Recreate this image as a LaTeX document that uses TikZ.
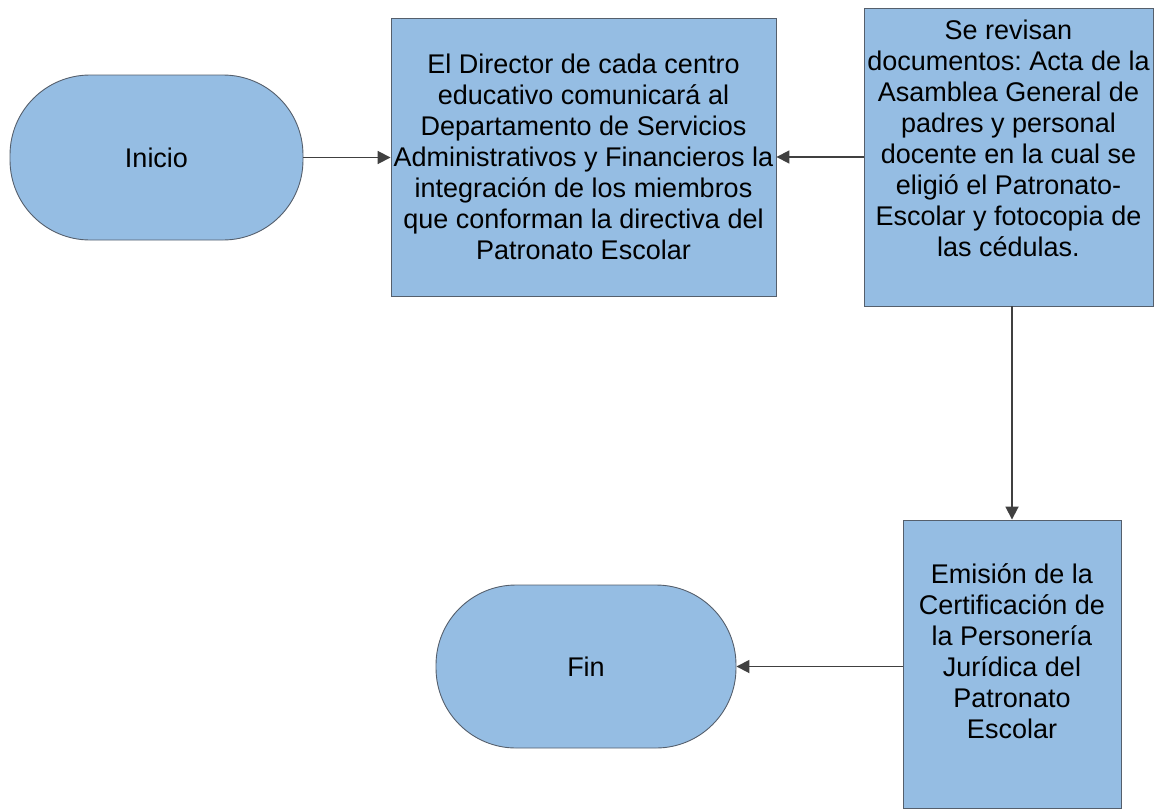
\documentclass[tikz,border=0pt]{standalone}
\usepackage{fontspec}
\setmainfont{Liberation Sans}
\usepackage{tikz}
\usetikzlibrary{arrows.meta, positioning}
\definecolor{boxblue}{RGB}{149,189,227}
\definecolor{boxedge}{RGB}{85,95,108}
\definecolor{linegray}{RGB}{64,64,64}
\frenchspacing
\tikzset{
  terminal/.style={rectangle, rounded corners=80pt, draw=boxedge, fill=boxblue, line width=0.9pt, font=\fontsize{27}{31}\selectfont, text centered},
  stepbox/.style={rectangle, draw=boxedge, fill=boxblue, line width=0.9pt},
  boxtext/.style={align=center, font=\fontsize{27}{31}\selectfont, inner sep=0pt},
  arrowline/.style={-{Triangle[length=13pt, width=13pt]}, line width=1.8pt, draw=linegray, fill=linegray},
}
\begin{document}
\begin{tikzpicture}[x=1pt, y=-1pt]
\useasboundingbox (0,0) rectangle (1154,811);

\node[terminal, minimum width=293pt, minimum height=165pt] (inicio) at (156.5,157.5) {Inicio};
\node[terminal, minimum width=300pt, minimum height=163pt] (fin) at (586,666.5) {Fin};

\node[stepbox, minimum width=385pt, minimum height=278pt] (director) at (583.5,157) {};
\node[boxtext] (directortxt) at (583.5,157) {El Director de cada centro\\educativo comunicará al\\Departamento de Servicios\\Administrativos y Financieros la\\integración de los miembros\\que conforman la directiva del\\Patronato Escolar};

\node[stepbox, minimum width=289pt, minimum height=298pt] (revision) at (1008.5,157) {};
\node[boxtext] (revisiontxt) at (1008.5,138.5) {Se revisan\\documentos: Acta de la\\Asamblea General de\\padres y personal\\docente en la cual se\\eligió el Patronato-\\Escolar y fotocopia de\\las cédulas.};

\node[stepbox, minimum width=218pt, minimum height=288pt] (emision) at (1012,664) {};
\node[boxtext] (emisiontxt) at (1012,651) {Emisión de la\\Certificación de\\la Personería\\Jurídica del\\Patronato\\Escolar};

\draw[arrowline] (inicio.east) -- (director.west |- inicio.east);
\draw[arrowline] (revision.west) -- (director.east);
\draw[arrowline] (revision.south -| emision.north) -- (emision.north);
\draw[arrowline] (emision.west |- fin.east) -- (fin.east);
\end{tikzpicture}
\end{document}
